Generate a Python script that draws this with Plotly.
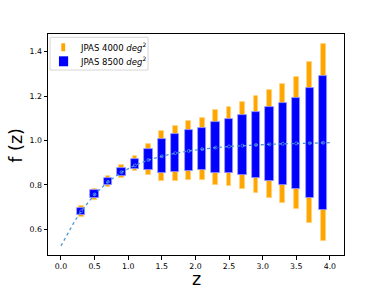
import plotly.graph_objects as go

# redshift bins
z = [0.3, 0.5, 0.7, 0.9, 1.1, 1.3, 1.5, 1.7, 1.9, 2.1, 2.3, 2.5, 2.7, 2.9, 3.1, 3.3, 3.5, 3.7, 3.9]

# JPAS 4000 deg^2 (orange) : lower / upper ends
lo_4000 = [0.657, 0.734, 0.792, 0.830, 0.861, 0.845, 0.818, 0.819, 0.822, 0.823, 0.800, 0.795, 0.782, 0.764, 0.742, 0.717, 0.690, 0.627, 0.549]
hi_4000 = [0.707, 0.782, 0.840, 0.890, 0.931, 0.983, 1.044, 1.067, 1.088, 1.101, 1.137, 1.151, 1.173, 1.200, 1.227, 1.255, 1.286, 1.352, 1.433]

# JPAS 8500 deg^2 (blue) : lower / upper ends
lo_8500 = [0.665, 0.742, 0.800, 0.840, 0.871, 0.867, 0.855, 0.859, 0.864, 0.866, 0.854, 0.852, 0.845, 0.832, 0.818, 0.801, 0.782, 0.740, 0.687]
hi_8500 = [0.698, 0.775, 0.832, 0.878, 0.918, 0.960, 1.007, 1.028, 1.046, 1.056, 1.085, 1.095, 1.113, 1.130, 1.150, 1.170, 1.191, 1.238, 1.292]

# fiducial growth rate (dotted line)
z_fid = [0.0, 0.1, 0.2, 0.3, 0.5, 0.7, 0.9, 1.1, 1.3, 1.5, 1.7, 1.9, 2.1, 2.3, 2.5, 2.7, 2.9, 3.1, 3.3, 3.5, 3.7, 3.9, 4.0]
f_fid = [0.525, 0.582, 0.634, 0.681, 0.757, 0.814, 0.857, 0.888, 0.912, 0.929, 0.943, 0.953, 0.961, 0.968, 0.973, 0.977, 0.980, 0.983, 0.985, 0.987, 0.988, 0.990, 0.990]

x_ticks = [0.0, 0.5, 1.0, 1.5, 2.0, 2.5, 3.0, 3.5, 4.0]
y_ticks = [0.6, 0.8, 1.0, 1.2, 1.4]

series_names = ["JPAS 4000 <i>deg</i><sup>2</sup>", "JPAS 8500 <i>deg</i><sup>2</sup>"]
x_title = "z"
y_title = "f (z)"

FONT = "DejaVu Sans"
ORANGE = "#ffa500"
BLUE = "#0000ff"

fig = go.Figure()

fig.add_trace(go.Bar(
    x=z, y=[h - l for h, l in zip(hi_4000, lo_4000)], base=lo_4000, name=series_names[0],
    width=0.07, marker=dict(color=ORANGE, line=dict(color="#ffd27a", width=0.8)),
    showlegend=False, hoverinfo="skip"))

fig.add_trace(go.Bar(
    x=z, y=[h - l for h, l in zip(hi_8500, lo_8500)], base=lo_8500, name=series_names[1],
    width=0.125, marker=dict(color=BLUE, line=dict(color="#9b9bff", width=0.8)),
    showlegend=False, hoverinfo="skip"))

fig.add_trace(go.Scatter(
    x=z_fid, y=f_fid, mode="lines",
    line=dict(color="#4a97d6", width=1.3, dash="dot"),
    showlegend=False, hoverinfo="skip"))

fig.add_trace(go.Scatter(
    x=z, y=[f_fid[z_fid.index(v)] for v in z], mode="markers",
    marker=dict(symbol="circle-open", size=3, color="#7ab3e0", line=dict(width=0.6)),
    showlegend=False, hoverinfo="skip"))

# legend drawn in the upper-left corner (paper coordinates of the plot area)
legend_shapes = [
    dict(type="rect", xref="paper", yref="paper", x0=0.007, x1=0.338, y0=0.837, y1=0.985,
         line=dict(color="#d6d6d6", width=1), fillcolor="white", layer="above"),
    dict(type="rect", xref="paper", yref="paper", x0=0.045, x1=0.058, y0=0.922, y1=0.958,
         line=dict(width=0), fillcolor=ORANGE, layer="above"),
    dict(type="rect", xref="paper", yref="paper", x0=0.037, x1=0.068, y0=0.854, y1=0.899,
         line=dict(width=0), fillcolor=BLUE, layer="above"),
]
texts = [
    dict(xref="paper", yref="paper", x=0.101, y=0.940, text=series_names[0], showarrow=False,
         xanchor="left", yanchor="middle", font=dict(family=FONT, size=8.5, color="black")),
    dict(xref="paper", yref="paper", x=0.101, y=0.877, text=series_names[1], showarrow=False,
         xanchor="left", yanchor="middle", font=dict(family=FONT, size=8.5, color="black")),
    # axis titles
    dict(xref="paper", yref="paper", x=0.5, y=-0.108, text=x_title, showarrow=False,
         xanchor="center", yanchor="middle", font=dict(family=FONT, size=17.5, color="black")),
    dict(xref="paper", yref="paper", x=-0.108, y=0.495, text=y_title, showarrow=False,
         textangle=-90, xanchor="center", yanchor="middle",
         font=dict(family=FONT, size=17.5, color="black")),
]

fig.update_layout(
    width=382, height=287,
    margin=dict(l=48, r=38, t=34, b=32),
    paper_bgcolor="white", plot_bgcolor="white",
    barmode="overlay", bargap=0,
    font=dict(family=FONT, size=7.5, color="black"),
    showlegend=False,
    shapes=legend_shapes,
    annotations=texts,
    xaxis=dict(range=[-0.193, 4.21], tickvals=x_ticks, ticktext=[f"{v:.1f}" for v in x_ticks],
               showgrid=False, zeroline=False, showline=True, linecolor="black", linewidth=1,
               mirror=True, ticks="outside", ticklen=3.5, tickcolor="black", automargin=False,
               tickfont=dict(size=7.8)),
    yaxis=dict(range=[0.484, 1.48], tickvals=y_ticks, ticktext=[f"{v:.1f}" for v in y_ticks],
               showgrid=False, zeroline=False, showline=True, linecolor="black", linewidth=1,
               mirror=True, ticks="outside", ticklen=3.5, tickcolor="black", automargin=False,
               tickfont=dict(size=7.8)),
)

fig.write_html("out.html", config={"displayModeBar": False},
               post_script="document.body.style.margin='0';document.body.style.padding='0';")
